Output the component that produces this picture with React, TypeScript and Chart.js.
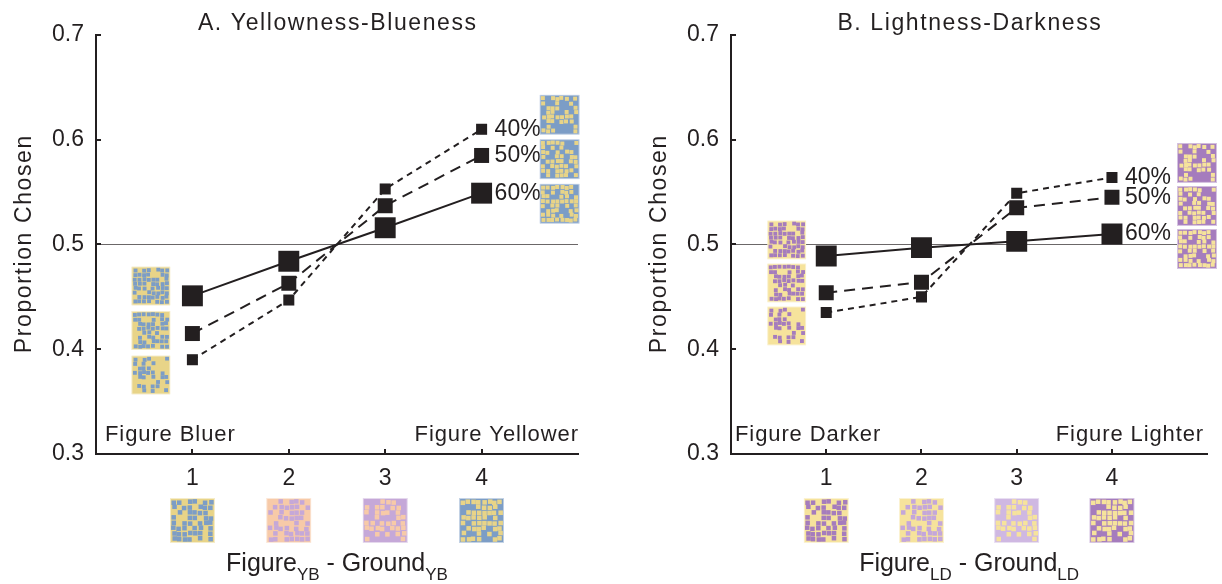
import React, { useEffect, useRef } from 'react';
import { Chart, registerables } from 'chart.js';

Chart.register(...registerables);

// ---------- data ----------
const X_VALUES = [1, 2, 3, 4];
const X_TICKS = [1, 2, 3, 4];
const Y_TICKS = [0.3, 0.4, 0.5, 0.6, 0.7];
const SERIES_LABELS = ['40%', '50%', '60%'];
const REFERENCE_LEVEL = 0.5;

const YB_40 = [0.39, 0.447, 0.553, 0.61];
const YB_50 = [0.415, 0.463, 0.537, 0.585];
const YB_60 = [0.451, 0.484, 0.516, 0.549];

const LD_40 = [0.435, 0.45, 0.549, 0.564];
const LD_50 = [0.454, 0.464, 0.535, 0.545];
const LD_60 = [0.489, 0.497, 0.503, 0.51];

const SIDE_DENSITIES_LEFT = [0.6, 0.5, 0.4];
const SIDE_DENSITIES_RIGHT = [0.4, 0.5, 0.6];

// ---------- styles ----------
const FONT = "'Liberation Sans', Arial, Helvetica, sans-serif";
const INK = '#231f20';

const YELLOW_A = '#e8d488';
const BLUE_A = '#7c9dc6';
const PEACH = '#f7caa8';
const LAVENDER = '#c5a8d8';
const YELLOW_B = '#f6e39c';
const PURPLE = '#a57cbd';
const LIGHT_PURPLE = '#c4a7da';
const LIGHT_LAV = '#cfb8e2';

const SERIES_STYLE = [
  { dash: [6, 5], radius: 7.8 },
  { dash: [11, 7], radius: 10.6 },
  { dash: [], radius: 14.8 },
];

type Swatch = { bg: string; fg: string; density: number };

type Panel = {
  key: string;
  title: string;
  sub: string;
  leftText: string;
  rightText: string;
  leftTextInset: number;
  rightTextInset: number;
  series: number[][];
  yAxisWidth: number;
  rightPad: number;
  yTitleOffset: number;
  leftCol: { bg: string; fg: string; topValue: number; rightGap: number; size: number; step: number };
  rightCol: { bg: string; fg: string; topValue: number; leftGap: number; size: number; step: number };
  bottom: Swatch[];
};

const PANELS: Panel[] = [
  {
    key: 'A',
    title: 'A. Yellowness-Blueness',
    sub: 'YB',
    leftText: 'Figure Bluer',
    rightText: 'Figure Yellower',
    leftTextInset: 9,
    rightTextInset: 0,
    series: [YB_40, YB_50, YB_60],
    yAxisWidth: 96,
    rightPad: 33,
    yTitleOffset: 65,
    leftCol: { bg: YELLOW_A, fg: BLUE_A, topValue: 0.479, rightGap: 22, size: 39, step: 44.5 },
    rightCol: { bg: BLUE_A, fg: YELLOW_A, topValue: 0.643, leftGap: 58, size: 40, step: 44.5 },
    bottom: [
      { bg: YELLOW_A, fg: BLUE_A, density: 0.55 },
      { bg: PEACH, fg: LAVENDER, density: 0.5 },
      { bg: LAVENDER, fg: PEACH, density: 0.55 },
      { bg: BLUE_A, fg: YELLOW_A, density: 0.55 },
    ],
  },
  {
    key: 'B',
    title: 'B. Lightness-Darkness',
    sub: 'LD',
    leftText: 'Figure Darker',
    rightText: 'Figure Lighter',
    leftTextInset: 4,
    rightTextInset: 4,
    series: [LD_40, LD_50, LD_60],
    yAxisWidth: 120,
    rightPad: 9,
    yTitleOffset: 65,
    leftCol: { bg: YELLOW_B, fg: PURPLE, topValue: 0.523, rightGap: 20, size: 39, step: 43 },
    rightCol: { bg: PURPLE, fg: YELLOW_B, topValue: 0.597, leftGap: 65, size: 40, step: 43 },
    bottom: [
      { bg: YELLOW_B, fg: PURPLE, density: 0.55 },
      { bg: YELLOW_B, fg: LIGHT_PURPLE, density: 0.5 },
      { bg: LIGHT_LAV, fg: YELLOW_B, density: 0.55 },
      { bg: PURPLE, fg: YELLOW_B, density: 0.55 },
    ],
  },
];

// ---------- helpers ----------
function hash(a: number, b: number, c: number): number {
  let h = Math.imul(a + 1, 374761393) ^ Math.imul(b + 3, 668265263) ^ Math.imul(c + 7, 1274126177);
  h = Math.imul(h ^ (h >>> 13), 1274126177);
  h ^= h >>> 16;
  return ((h >>> 0) % 10000) / 10000;
}

function drawSwatch(ctx: CanvasRenderingContext2D, x: number, y: number, size: number, bg: string, fg: string, density: number, seed: number) {
  ctx.save();
  ctx.beginPath();
  ctx.rect(x, y, size, size);
  ctx.clip();
  ctx.fillStyle = bg;
  ctx.fillRect(x, y, size, size);
  const n = 8;
  const cell = (size - 3) / n;
  const side = cell * 0.86;
  const p = Math.min(1, density / 0.74);
  ctx.fillStyle = fg;
  for (let i = 0; i < n; i++) {
    for (let j = 0; j < n; j++) {
      if (hash(i, j, seed) < p) {
        const jx = (hash(j + 11, i, seed + 5) - 0.5) * cell * 0.3;
        const jy = (hash(i + 3, j + 17, seed + 9) - 0.5) * cell * 0.3;
        ctx.fillRect(x + 1.5 + i * cell + (cell - side) / 2 + jx, y + 1.5 + j * cell + (cell - side) / 2 + jy, side, side);
      }
    }
  }
  ctx.strokeStyle = 'rgba(255,255,255,0.55)';
  ctx.lineWidth = 1;
  ctx.strokeRect(x + 0.5, y + 0.5, size - 1, size - 1);
  ctx.restore();
}

function drawText(ctx: CanvasRenderingContext2D, text: string, x: number, y: number, size: number, align: 'left' | 'center' | 'right', spacing = 0, baseline: CanvasTextBaseline = 'alphabetic') {
  ctx.save();
  ctx.font = `${size}px ${FONT}`;
  (ctx as any).letterSpacing = `${spacing}px`;
  ctx.textAlign = 'left';
  ctx.textBaseline = baseline;
  ctx.fillStyle = INK;
  const w = ctx.measureText(text).width - spacing;
  const left = align === 'center' ? x - w / 2 : align === 'right' ? x - w : x;
  ctx.fillText(text, left, y);
  ctx.restore();
  return w;
}

function measure(ctx: CanvasRenderingContext2D, text: string, size: number) {
  ctx.save();
  ctx.font = `${size}px ${FONT}`;
  (ctx as any).letterSpacing = '0px';
  const w = ctx.measureText(text).width;
  ctx.restore();
  return w;
}

function makeDecor(p: Panel) {
  return {
    id: 'decor' + p.key,
    beforeDatasetsDraw(chart: any) {
      const { ctx, chartArea: a, scales } = chart;
      const yy = scales.y.getPixelForValue(REFERENCE_LEVEL);
      ctx.save();
      ctx.strokeStyle = '#6b6768';
      ctx.lineWidth = 1.2;
      ctx.beginPath();
      ctx.moveTo(a.left, yy);
      ctx.lineTo(a.right, yy);
      ctx.stroke();
      ctx.restore();
    },
    afterDraw(chart: any) {
      const { ctx, chartArea: a, scales } = chart;
      const xs = scales.x;
      const ys = scales.y;

      // inward tick marks
      ctx.save();
      ctx.strokeStyle = INK;
      ctx.lineWidth = 2;
      ctx.beginPath();
      Y_TICKS.forEach((v) => {
        const py = Math.round(ys.getPixelForValue(v));
        ctx.moveTo(a.left, py);
        ctx.lineTo(a.left + 5, py);
      });
      X_TICKS.forEach((v) => {
        const px = Math.round(xs.getPixelForValue(v));
        ctx.moveTo(px, a.bottom);
        ctx.lineTo(px, a.bottom - 5);
      });
      ctx.stroke();
      ctx.restore();

      // title
      const cx = (a.left + a.right) / 2;
      drawText(ctx, p.title, cx, 30, 23, 'center', 1.6);

      // y-axis title
      ctx.save();
      ctx.translate(a.left - p.yTitleOffset, (a.top + a.bottom) / 2);
      ctx.rotate(-Math.PI / 2);
      drawText(ctx, 'Proportion Chosen', 0, 0, 23, 'center', 1.6);
      ctx.restore();

      // corner texts
      drawText(ctx, p.leftText, a.left + p.leftTextInset, a.bottom - 13, 22, 'left', 0.9);
      drawText(ctx, p.rightText, a.right - p.rightTextInset, a.bottom - 13, 22, 'right', 0.9);

      // percentage labels
      const x4 = xs.getPixelForValue(X_VALUES[X_VALUES.length - 1]);
      p.series.forEach((s, i) => {
        drawText(ctx, SERIES_LABELS[i], x4 + 13, ys.getPixelForValue(s[s.length - 1]), 23, 'left', 0, 'middle');
      });

      // side swatches
      const x1 = xs.getPixelForValue(X_VALUES[0]);
      const lc = p.leftCol;
      const lTop = ys.getPixelForValue(lc.topValue);
      SIDE_DENSITIES_LEFT.forEach((d, i) => {
        drawSwatch(ctx, x1 - lc.rightGap - lc.size, lTop + i * lc.step, lc.size, lc.bg, lc.fg, d, 10 + i);
      });
      const rc = p.rightCol;
      const rTop = ys.getPixelForValue(rc.topValue);
      SIDE_DENSITIES_RIGHT.forEach((d, i) => {
        drawSwatch(ctx, x4 + rc.leftGap, rTop + i * rc.step, rc.size, rc.bg, rc.fg, d, 20 + i);
      });

      // bottom swatches
      p.bottom.forEach((sw, i) => {
        const px = xs.getPixelForValue(X_TICKS[i]);
        drawSwatch(ctx, px - 22.5, a.bottom + 44, 45, sw.bg, sw.fg, sw.density, 30 + i);
      });

      // x-axis title with subscripts
      const big = 25;
      const small = 17;
      const parts = [
        { t: 'Figure', s: big, dy: 0 },
        { t: p.sub, s: small, dy: 9 },
        { t: ' - Ground', s: big, dy: 0 },
        { t: p.sub, s: small, dy: 9 },
      ];
      const total = parts.reduce((acc, q) => acc + measure(ctx, q.t, q.s), 0);
      let px = cx - total / 2;
      const base = 571;
      parts.forEach((q) => {
        drawText(ctx, q.t, px, base + q.dy, q.s, 'left', 0);
        px += measure(ctx, q.t, q.s);
      });
    },
  };
}

function makeConfig(p: Panel): any {
  return {
    type: 'line',
    data: {
      datasets: p.series.map((s, i) => ({
        label: SERIES_LABELS[i],
        data: X_VALUES.map((x, k) => ({ x, y: s[k] })),
        borderColor: INK,
        borderWidth: 2,
        borderDash: SERIES_STYLE[i].dash,
        borderCapStyle: 'butt',
        fill: false,
        tension: 0,
        pointStyle: 'rect',
        pointRadius: SERIES_STYLE[i].radius,
        pointHoverRadius: SERIES_STYLE[i].radius,
        pointBackgroundColor: INK,
        pointBorderColor: INK,
        pointBorderWidth: 0,
      })),
    },
    options: {
      animation: false,
      responsive: false,
      maintainAspectRatio: false,
      devicePixelRatio: 1,
      events: [],
      layout: { padding: { left: 0, right: p.rightPad, top: 35, bottom: 0 } },
      plugins: { legend: { display: false }, tooltip: { enabled: false }, title: { display: false } },
      scales: {
        x: {
          type: 'linear',
          min: 0,
          max: 5,
          afterBuildTicks: (s: any) => {
            s.ticks = X_TICKS.map((v) => ({ value: v }));
          },
          afterFit: (s: any) => {
            s.height = 130;
          },
          grid: { display: false, drawTicks: false, tickLength: 0 },
          border: { display: true, color: INK, width: 2 },
          ticks: {
            color: INK,
            font: { family: FONT, size: 23 },
            padding: 11,
            maxRotation: 0,
            autoSkip: false,
            callback: (v: any) => String(v),
          },
        },
        y: {
          type: 'linear',
          min: 0.3,
          max: 0.7,
          afterBuildTicks: (s: any) => {
            s.ticks = Y_TICKS.map((v) => ({ value: v }));
          },
          afterFit: (s: any) => {
            s.width = p.yAxisWidth;
          },
          grid: { display: false, drawTicks: false, tickLength: 0 },
          border: { display: true, color: INK, width: 2 },
          ticks: {
            color: INK,
            font: { family: FONT, size: 23 },
            padding: 12,
            autoSkip: false,
            callback: (v: any) => Number(v).toFixed(1),
          },
        },
      },
    },
    plugins: [makeDecor(p)],
  };
}

export default function App() {
  const refA = useRef<HTMLCanvasElement>(null);
  const refB = useRef<HTMLCanvasElement>(null);

  useEffect(() => {
    const charts: Chart[] = [];
    [refA.current, refB.current].forEach((c, i) => {
      if (c) charts.push(new Chart(c, makeConfig(PANELS[i])));
    });
    return () => charts.forEach((c) => c.destroy());
  }, []);

  return (
    <div style={{ position: 'absolute', left: 0, top: 0, width: 1222, height: 584, background: '#fff', overflow: 'hidden' }}>
      <canvas ref={refA} width={611} height={584} style={{ position: 'absolute', left: 0, top: 0, width: 611, height: 584 }} />
      <canvas ref={refB} width={611} height={584} style={{ position: 'absolute', left: 611, top: 0, width: 611, height: 584 }} />
    </div>
  );
}
